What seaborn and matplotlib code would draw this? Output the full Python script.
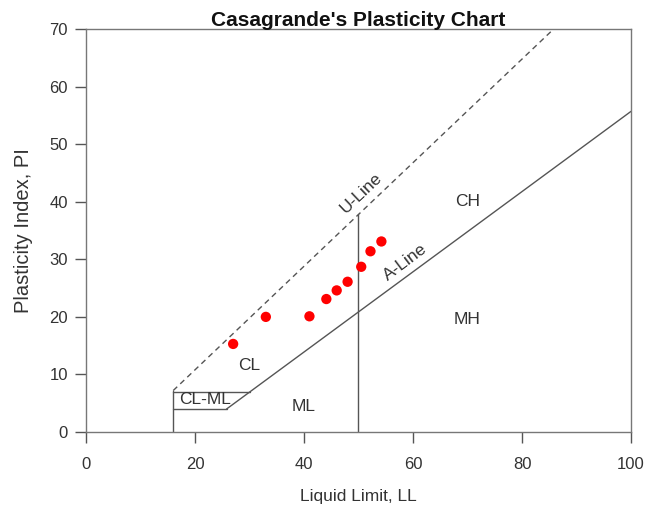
import numpy as np
import pandas as pd
import matplotlib
matplotlib.use('Agg')
import matplotlib.pyplot as plt
import seaborn as sns

# Sample points (liquid limit, plasticity index)
ll = [27.0, 33.0, 41.0, 44.1, 46.0, 48.0, 50.5, 52.2, 54.2]
pi = [15.3, 20.0, 20.1, 23.1, 24.6, 26.1, 28.7, 31.4, 33.1]

# Reference lines
a_line_ll = [25.8, 100]
a_line_pi = [4, 55.7]
u_line_ll = [16, 85.8]
u_line_pi = [7.2, 70]
clml_low_ll = [16, 25.8]
clml_low_pi = [4, 4]
clml_up_ll = [16, 30.1]
clml_up_pi = [7, 7]
v16_ll = [16, 16]
v16_pi = [0, 7.2]
v50_ll = [50, 50]
v50_pi = [0, 37.8]

# Zone labels
zone_names = ['CH', 'MH', 'CL', 'ML', 'CL-ML']
zone_ll = [70, 70, 30, 40, 21.8]
zone_pi = [40, 19.5, 11.5, 4.5, 5.6]

x_ticks = [0, 20, 40, 60, 80, 100]
y_ticks = [0, 10, 20, 30, 40, 50, 60, 70]

sns.set_style('white')
plt.rcParams['font.family'] = ['Liberation Sans', 'DejaVu Sans']

fig = plt.figure(figsize=(6.46, 5.14), dpi=100)
ax = fig.add_axes([0.1331, 0.1595, 0.8437, 0.7840])

line_col = '#555555'
txt_col = '#333333'

ax.plot(a_line_ll, a_line_pi, color=line_col, lw=1)
ax.plot(u_line_ll, u_line_pi, color=line_col, lw=1, ls=(0, (4, 3)))
for xs, ys in [(clml_low_ll, clml_low_pi), (clml_up_ll, clml_up_pi),
               (v16_ll, v16_pi), (v50_ll, v50_pi)]:
    ax.plot(xs, ys, color=line_col, lw=1)

pts = pd.DataFrame({'LL': ll, 'PI': pi})
sns.scatterplot(data=pts, x='LL', y='PI', color='#ff0000', s=55,
                edgecolor='none', ax=ax, zorder=5)

for name, x, y in zip(zone_names, zone_ll, zone_pi):
    ax.text(x, y, name, ha='center', va='center', fontsize=12.5, color=txt_col)

ax.text(50.4, 41.5, 'U-Line', rotation=43.5, ha='center', va='center',
        fontsize=12.5, color=txt_col, rotation_mode='anchor')
ax.text(58.6, 29.5, 'A-Line', rotation=37, ha='center', va='center',
        fontsize=12.5, color=txt_col, rotation_mode='anchor')

ax.set_xlim(0, 100)
ax.set_ylim(0, 70)
ax.set_xticks(x_ticks)
ax.set_yticks(y_ticks)
ax.tick_params(axis='both', direction='out', length=8, width=1, color=line_col,
               labelsize=12, labelcolor=txt_col, left=True, bottom=True)
ax.tick_params(axis='x', pad=10)
ax.tick_params(axis='y', pad=5)
for sp in ax.spines.values():
    sp.set_color('#777777')
    sp.set_linewidth(1)

ax.set_xlabel('Liquid Limit, LL', fontsize=12.5, color=txt_col, labelpad=12)
ax.set_ylabel('Plasticity Index, PI', fontsize=14.5, color=txt_col, labelpad=12)
ax.set_title("Casagrande's Plasticity Chart", fontsize=15, fontweight='bold',
             color='#111111', pad=2)

fig.savefig('out.png', dpi=100)
